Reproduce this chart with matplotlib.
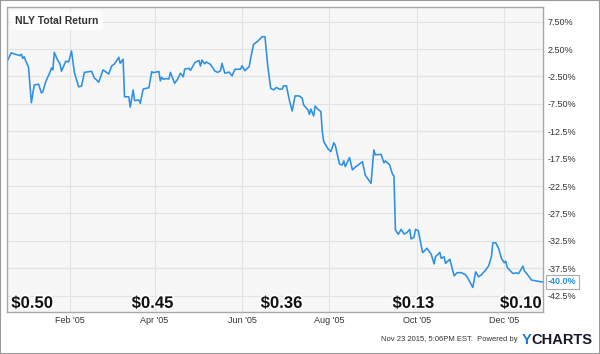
import matplotlib
matplotlib.use("Agg")
import matplotlib.pyplot as plt
import matplotlib.patheffects as pe
from matplotlib.patches import Rectangle
import pandas as pd

# days since 2005-01-01
day_offsets = [-13, -10, -9, -4, -3, -2, -1, 0, 2, 4, 6, 9, 11, 12, 14, 17, 18, 19, 20, 22, 24, 25,
               28, 30, 32, 34, 37, 39, 41, 46, 48, 49, 51, 54, 58, 60, 62, 65, 66, 68, 69, 72, 73,
               75, 76, 79, 80, 82, 86, 88, 89, 93, 94, 95, 96, 98, 100, 101, 104, 106, 108, 110,
               111, 114, 115, 118, 120, 121, 122, 123, 125, 126, 129, 132, 134, 136, 137, 139,
               142, 144, 146, 150, 151, 153, 156, 157, 159, 162, 165, 167, 169, 171, 173, 175,
               177, 179, 180, 182, 184, 186, 188, 191, 193, 194, 197, 198, 199, 201, 202, 204,
               206, 207, 208, 211, 213, 215, 216, 219, 221, 222, 223, 226, 228, 230, 235, 237,
               241, 243, 244, 248, 250, 251, 254, 256, 257, 258, 260, 262, 264, 266, 268, 269,
               271, 272, 274, 277, 280, 283, 285, 286, 289, 290, 292, 293, 296, 299, 301, 304,
               307, 309, 312, 314, 316, 318, 321, 323, 325, 326, 328, 330, 332, 334, 335, 336,
               340, 342, 344, 347, 348, 350, 353, 356, 359, 361]
total_return = [0.2, 1.85, 1.7, 1.3, 1.55, 0.8, 1.1, 0.4, -0.8, -7.3, -4.05, -3.9, -5.5, -5.3, -3.45,
                -1.7, -0.95, -1.3, 1.9, 0.65, -0.2, -1.55, 0.3, 0.15, 2.15, -1.75, -4.4, -4.25,
                -1.75, -1.55, -2.8, -3.0, -3.55, -1.3, -2.05, -0.6, -0.2, 1.0, -0.1, 0.65, -6.2,
                -6.2, -8.1, -4.95, -6.9, -6.8, -7.4, -4.8, -4.55, -1.6, -1.8, -1.6, -3.3, -2.65,
                -3.0, -2.9, -2.95, -1.75, -3.75, -3.0, -1.9, -2.55, -1.15, -1.0, -1.4, 0.0, 0.3,
                0.4, -0.6, 0.5, -0.2, 0.15, -0.3, -1.5, -1.75, -1.45, -0.1, -1.9, -1.7, -2.4,
                -1.2, -1.15, -0.55, -1.45, -0.7, 0.8, 3.35, 3.95, 4.75, 4.75, -0.7, -4.65, -4.95,
                -4.5, -4.8, -4.8, -4.2, -4.2, -6.8, -8.8, -6.05, -6.05, -6.5, -7.7, -8.6, -9.4,
                -8.45, -9.7, -7.9, -8.5, -8.9, -12.55, -14.4, -15.7, -16.2, -14.6, -15.0, -18.5,
                -18.65, -17.9, -18.95, -17.3, -19.55, -19.05, -18.05, -20.5, -22.0, -15.9, -16.8,
                -16.7, -18.25, -17.9, -18.65, -20.35, -20.65, -30.5, -31.3, -30.4, -31.25, -31.0,
                -30.4, -32.15, -31.85, -30.4, -30.65, -34.65, -33.85, -34.95, -36.7, -35.4,
                -34.6, -35.7, -35.4, -36.6, -35.85, -38.9, -38.3, -38.3, -38.7, -39.5, -41.0,
                -38.15, -39.05, -38.7, -37.8, -37.1, -35.4, -32.85, -32.85, -33.85, -35.7, -36.5,
                -36.2, -37.35, -38.45, -38.35, -38.45, -37.1, -37.95, -38.6, -39.65, -39.8,
                -39.95, -40.0]

y_ticks = [7.5, 2.5, -2.5, -7.5, -12.5, -17.5, -22.5, -27.5, -32.5, -37.5, -42.5]
y_tick_labels = ["7.50%", "2.50%", "-2.50%", "-7.50%", "-12.5%", "-17.5%", "-22.5%",
                 "-27.5%", "-32.5%", "-37.5%", "-42.5%"]
x_tick_dates = ["2005-02-01", "2005-04-01", "2005-06-01", "2005-08-01", "2005-10-01", "2005-12-01"]
x_tick_labels = ["Feb '05", "Apr '05", "Jun '05", "Aug '05", "Oct '05", "Dec '05"]
dividend_labels = ["$0.50", "$0.45", "$0.36", "$0.13", "$0.10"]
dividend_days = [-10, 74, 164, 256, 331]
last_label = "-40.0%"

base = pd.Timestamp("2005-01-01")
dates = base + pd.to_timedelta(day_offsets, unit="D")
div_dates = base + pd.to_timedelta(dividend_days, unit="D")

plt.rcParams["font.family"] = ["Liberation Sans", "DejaVu Sans"]
fig = plt.figure(figsize=(6.0, 3.54), dpi=100)
ax = fig.add_axes([7 / 600, 42 / 354, 536 / 600, 305 / 354])
ax.set_facecolor("#f7f7f7")

ax.plot(dates, total_return, color="#2b90e6", lw=1.15, solid_joinstyle="round")

ymin, ymax = -45.48, 10.18
ax.set_xlim(dates[0], dates[-1])
ax.set_ylim(ymin, ymax)
ax.yaxis.tick_right()
ax.set_yticks(y_ticks)
ax.set_yticklabels(y_tick_labels)
ax.set_xticks(pd.to_datetime(x_tick_dates))
ax.set_xticklabels(x_tick_labels)
ax.tick_params(axis="both", length=0, labelsize=6.5, colors="#333333")
ax.tick_params(axis="y", pad=3)
ax.tick_params(axis="x", pad=3)
ax.grid(True, color="#e3e3e3", lw=0.8)
ax.set_axisbelow(True)
for s in ax.spines.values():
    s.set_color("#a8a8a8")
    s.set_linewidth(1.0)

# title
ax.text(0.015, 0.972, "NLY Total Return", transform=ax.transAxes, fontsize=7.5,
        fontweight="bold", color="#333333", va="top", ha="left",
        bbox=dict(boxstyle="square,pad=0.45", facecolor="white", edgecolor="none", alpha=0.85))

# dividend labels
for d, lab in zip(div_dates, dividend_labels):
    ax.text(d, -43.9, lab, fontsize=12, fontweight="bold", color="#111111",
            ha="left", va="center",
            path_effects=[pe.withSimplePatchShadow(offset=(0.5, -1.2), shadow_rgbFace="#999999", alpha=0.5),
                          pe.withStroke(linewidth=2.5, foreground="white")])

# last value box
ax.annotate(last_label, xy=(1.0, (total_return[-1] - ymin) / (ymax - ymin)), xycoords="axes fraction",
            xytext=(3.5, 0), textcoords="offset points", fontsize=6.5, fontweight="bold",
            color="#2b90e6", va="center", ha="left",
            bbox=dict(boxstyle="square,pad=0.25", facecolor="white", edgecolor="#aaaaaa", lw=0.8))

# footer
fig.text(0.863, 0.040, "Nov 23 2015, 5:06PM EST.  Powered by", fontsize=5.5, color="#333333",
         ha="right", va="center")
fig.text(0.870, 0.040, "Y", fontsize=10.5, fontweight="bold", color="#1a7ad9",
         ha="left", va="center")
fig.text(0.886, 0.040, "CHARTS", fontsize=10.5, fontweight="bold", color="#15192b",
         ha="left", va="center")

fig.patches.append(Rectangle((0, 0), 1, 1, transform=fig.transFigure, fill=False,
                             edgecolor="#999999", lw=1.5))

fig.savefig("out.png", dpi=100)
